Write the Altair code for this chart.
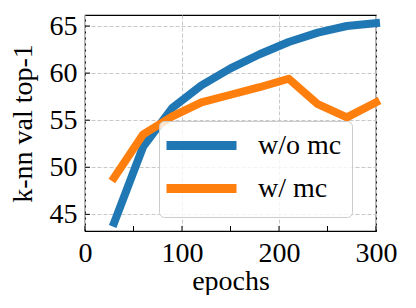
import altair as alt
import pandas as pd

epochs = [30, 60, 90, 120, 150, 180, 210, 240, 270, 300]
wo_mc = [44.1, 52.2, 56.3, 58.7, 60.5, 62.0, 63.3, 64.3, 65.0, 65.3]
w_mc = [48.9, 53.5, 55.4, 56.9, 57.7, 58.5, 59.4, 56.7, 55.3, 56.9]
series_names = ["w/o mc", "w/ mc"]
series_colors = ["#1f77b4", "#ff7f0e"]
x_ticks = [0, 100, 200, 300]
x_minor = [0, 50, 100, 150, 200, 250, 300]
y_ticks = [45, 50, 55, 60, 65]

W, H = 291, 216
FONT = "Liberation Serif"

rows = []
for name, vals in zip(series_names, [wo_mc, w_mc]):
    for e, v in zip(epochs, vals):
        rows.append({"epoch": e, "acc": v, "series": name})
df = pd.DataFrame(rows)

xscale = alt.Scale(domain=[0, 300], nice=False, zero=False)
yscale = alt.Scale(domain=[43.23, 66.17], nice=False, zero=False)

common = dict(tickSize=0, domain=False, grid=True, gridDash=[4, 2],
              gridColor="#c8c8c8", labelFontSize=28, titleFontSize=28,
              labelFont=FONT, titleFont=FONT, titleFontWeight="normal",
              labelColor="black", titleColor="black", labelFlush=False)

lines = alt.Chart(df).mark_line(
    strokeWidth=8, strokeCap="square", strokeJoin="round"
).encode(
    x=alt.X("epoch:Q", scale=xscale,
            axis=alt.Axis(values=x_ticks, title="epochs",
                          labelPadding=8, titlePadding=0, **common)),
    y=alt.Y("acc:Q", scale=yscale,
            axis=alt.Axis(values=y_ticks, title="k-nn val top-1",
                          labelPadding=8, titlePadding=12, **common)),
    color=alt.Color("series:N",
                    scale=alt.Scale(domain=series_names, range=series_colors),
                    legend=alt.Legend(
                        title=None, orient="none", legendX=74, legendY=106,
                        symbolType="M-3.5,0H3.5", symbolSize=400,
                        symbolOffset=18, symbolStrokeWidth=9,
                        labelFontSize=28, labelFont=FONT, labelColor="black",
                        labelOffset=42, rowPadding=6, padding=10,
                        fillColor="rgba(255,255,255,0.8)",
                        strokeColor="#cccccc", cornerRadius=5)),
)

xt = alt.Chart(pd.DataFrame({"epoch": x_minor})).mark_rule(
    color="black", strokeWidth=1
).encode(
    x=alt.X("epoch:Q", scale=xscale),
    y=alt.value(H), y2=alt.value(H - 5),
)
yt = alt.Chart(pd.DataFrame({"acc": y_ticks})).mark_rule(
    color="black", strokeWidth=1
).encode(
    y=alt.Y("acc:Q", scale=yscale),
    x=alt.value(0), x2=alt.value(5),
)

chart = alt.layer(lines, xt, yt).properties(
    width=W, height=H,
    padding={"left": 1, "top": 4, "right": 5, "bottom": 0},
).configure_view(stroke="black", strokeWidth=1.2)

chart.save("out.html", embed_options={"renderer": "svg", "actions": False})
